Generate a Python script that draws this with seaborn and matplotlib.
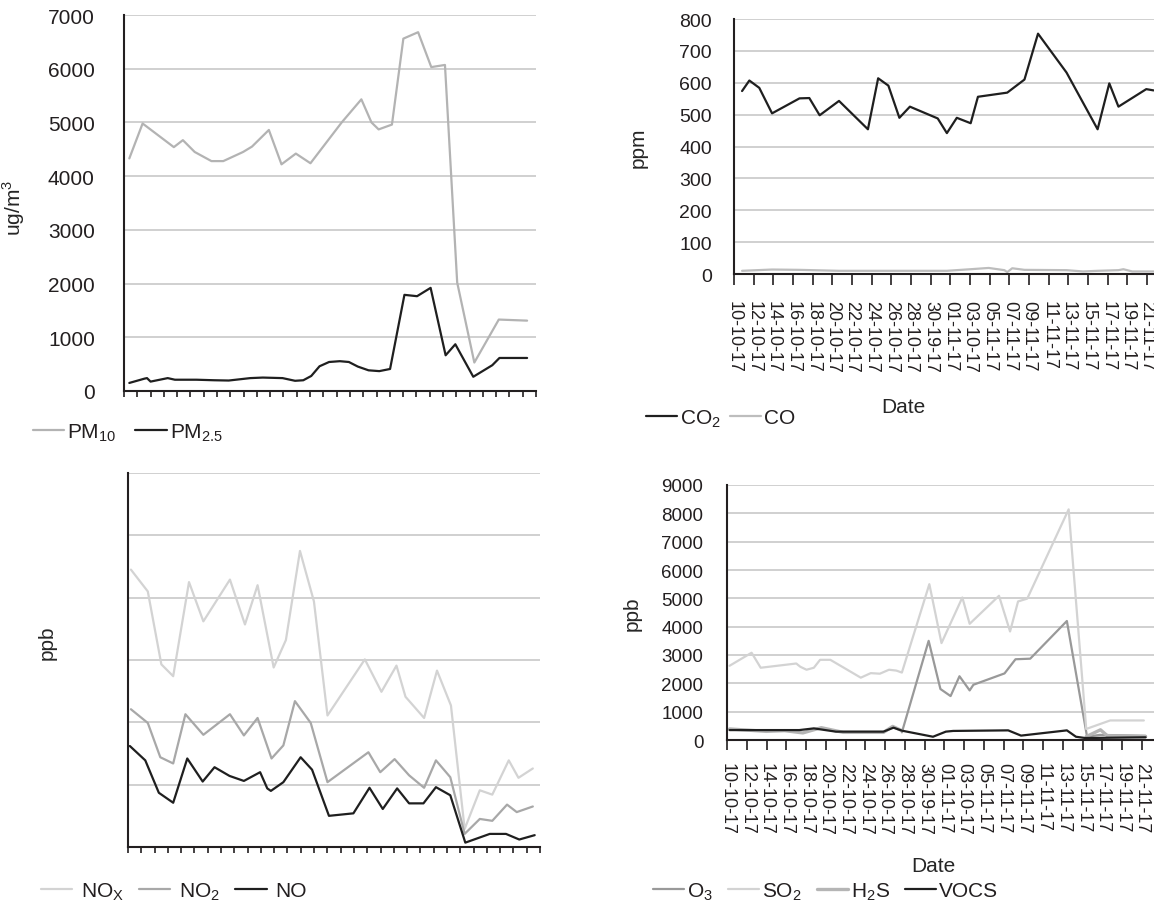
import seaborn as sns
import matplotlib.pyplot as plt

# ---- top left: particulate matter (ug/m3), x in tick units ----
pm_x10 = [0.40, 1.40, 3.75, 4.43, 5.32, 6.58, 7.47, 8.96, 9.63, 10.90, 11.85, 12.93, 14.03,
          16.38, 17.86, 18.62, 19.16, 20.16, 21.02, 22.13, 23.12, 24.15, 25.07, 26.36, 28.20, 30.33]
pm10 = [4330, 4980, 4540, 4670, 4450, 4280, 4280, 4450, 4550, 4860, 4220, 4420, 4240,
        5000, 5430, 5000, 4870, 4960, 6560, 6680, 6030, 6070, 2020, 530, 1330, 1310]
pm_x25 = [0.40, 1.54, 1.73, 2.00, 3.29, 3.83, 5.45, 6.80, 7.88, 9.50, 10.44, 11.93, 12.87, 13.49,
          14.09, 14.71, 15.43, 16.24, 16.92, 17.59, 18.40, 19.21, 20.02, 21.10, 22.05, 23.07,
          24.20, 24.93, 26.28, 27.71, 28.25, 30.33]
pm25 = [150, 230, 240, 175, 240, 210, 210, 200, 195, 240, 250, 240, 190, 200,
        280, 460, 540, 555, 540, 455, 385, 370, 410, 1790, 1765, 1920,
        665, 870, 265, 480, 615, 615]

# ---- top right: CO2 / CO (ppm), x in days from 10-10-17 ----
dates = ['10-10-17', '12-10-17', '14-10-17', '16-10-17', '18-10-17', '20-10-17', '22-10-17',
         '24-10-17', '26-10-17', '28-10-17', '30-19-17', '01-11-17', '03-10-17', '05-11-17',
         '07-11-17', '09-11-17', '11-11-17', '13-11-17', '15-11-17', '17-11-17', '19-11-17',
         '21-11-17']
co2_x = [0.82, 1.56, 2.57, 3.87, 6.66, 7.66, 8.71, 10.68, 13.62, 14.66, 15.70, 16.82, 17.89,
         20.72, 21.65, 22.66, 24.07, 24.81, 27.79, 29.54, 30.92, 33.82, 36.98, 38.17, 39.10,
         41.93, 42.67]
co2 = [574, 607, 584, 504, 551, 552, 498, 543, 454, 614, 591, 490, 525,
       488, 442, 490, 473, 556, 569, 610, 754, 632, 454, 598, 525, 580, 576]
co_x = [0.82, 3.87, 6.66, 10.68, 13.62, 17.89, 21.65, 24.07, 25.9, 27.5, 27.79, 28.3, 29.54,
        33.82, 35.5, 36.98, 39.1, 39.6, 40.5, 42.67]
co = [10, 14, 13, 10, 10, 10, 10, 15, 19, 12, 6, 18, 13, 12, 8, 10, 12, 15, 8, 8]

# ---- bottom left: nitrogen oxides (ppb, no scale shown) ----
nox_x = [0.22, 1.49, 2.51, 3.40, 4.59, 5.67, 7.67, 8.80, 9.75, 10.96, 11.88, 12.94, 13.99,
         15.01, 17.82, 19.07, 20.20, 20.88, 22.28, 23.25, 24.30, 25.33, 26.47, 27.41, 28.65,
         29.38, 30.46]
nox = [44.5, 41.0, 29.3, 27.4, 42.5, 36.2, 42.9, 35.7, 42.0, 28.8, 33.2, 47.5, 39.4,
       21.1, 30.1, 24.9, 29.1, 24.1, 20.7, 28.3, 22.7, 2.9, 9.1, 8.4, 13.9, 11.1, 12.6]
no2_x = [0.22, 1.49, 2.43, 3.40, 4.32, 5.67, 7.67, 8.72, 9.75, 10.80, 11.69, 12.56, 13.75,
         15.01, 18.09, 18.98, 20.06, 21.15, 22.28, 23.17, 24.25, 25.33, 26.47, 27.41, 28.52,
         29.25, 30.46]
no2 = [22.1, 19.9, 14.4, 13.4, 21.3, 18.0, 21.3, 17.9, 20.7, 14.2, 16.3, 23.4, 19.9,
       10.4, 15.2, 12.0, 14.1, 11.5, 9.5, 13.9, 11.2, 2.1, 4.5, 4.2, 6.8, 5.6, 6.5]
no_x = [0.14, 1.30, 2.32, 3.40, 4.46, 5.62, 6.51, 7.64, 8.72, 9.94, 10.48, 10.75, 11.69,
        12.99, 13.85, 15.12, 16.96, 18.17, 19.17, 20.25, 21.15, 22.23, 23.17, 24.25, 25.38,
        27.22, 28.44, 29.44, 30.60]
no = [16.2, 13.9, 8.7, 7.1, 14.2, 10.5, 12.8, 11.4, 10.6, 12.0, 9.4, 9.0, 10.4,
      14.4, 12.4, 5.0, 5.4, 9.5, 6.1, 9.4, 7.0, 7.0, 9.6, 8.3, 0.7,
      2.1, 2.1, 1.2, 1.9]

# ---- bottom right: O3 / SO2 / H2S / VOCS (ppb), x in days ----
o3_x = [17.70, 20.41, 21.60, 22.63, 23.53, 24.56, 24.94, 28.09, 29.20, 30.69, 34.40, 36.44,
        37.74, 42.37]
o3 = [270, 3500, 1800, 1550, 2250, 1750, 1950, 2350, 2850, 2870, 4200, 120, 180, 150]
so2_x = [0.26, 2.49, 3.41, 7.01, 7.42, 8.05, 8.79, 9.42, 10.46, 13.54, 14.55, 15.47, 16.40,
         17.14, 17.70, 20.48, 21.71, 23.82, 24.56, 27.53, 28.65, 29.46, 30.39, 34.58, 36.36,
         38.78, 42.19]
so2 = [2620, 3080, 2550, 2700, 2585, 2480, 2550, 2830, 2830, 2200, 2360, 2340, 2480,
       2450, 2380, 5500, 3420, 5030, 4100, 5090, 3830, 4890, 4990, 8140, 390,
       690, 690]
h2s_x1 = [0.26, 3.97, 5.83, 7.68, 9.54, 11.76, 15.84, 16.77, 17.70]
h2s1 = [390, 305, 330, 250, 435, 270, 270, 480, 330]
h2s_x2 = [36.36, 37.80, 38.50, 42.37]
h2s2 = [120, 360, 150, 120]
voc_x = [0.26, 7.31, 8.79, 11.02, 15.84, 16.85, 17.70, 20.85, 22.15, 22.89, 28.46, 29.76,
         34.40, 35.32, 36.25, 42.37]
voc = [350, 350, 410, 295, 295, 435, 330, 115, 295, 320, 340, 155, 340, 115, 70, 95]

W, H = 1154, 903
GRID = '#d0d0d0'
INK = '#231f20'

sns.set_style('white')
plt.rcParams['font.family'] = ['Liberation Sans', 'DejaVu Sans']
plt.rcParams['mathtext.fontset'] = 'custom'
plt.rcParams['mathtext.rm'] = 'Liberation Sans'
plt.rcParams['text.color'] = INK
plt.rcParams['xtick.color'] = INK
plt.rcParams['ytick.labelcolor'] = INK

fig = plt.figure(figsize=(W / 100, H / 100), dpi=100)


def place(l, t, r, b):
    # axes box given in pixels of the output image
    return fig.add_axes([l / W, 1 - b / H, (r - l) / W, (b - t) / H])


def style(ax, ylen, ypad, yfs):
    ax.grid(axis='y', color=GRID, linewidth=1.4)
    ax.grid(axis='x', visible=False)
    ax.set_axisbelow(True)
    for s in ['top', 'right']:
        ax.spines[s].set_visible(False)
    for s in ['left', 'bottom']:
        ax.spines[s].set_color(INK)
        ax.spines[s].set_linewidth(1.5)
    ax.tick_params(axis='y', length=ylen, width=1.4, color=GRID, pad=ypad, labelsize=yfs)
    ax.tick_params(axis='x', bottom=True, direction='out', length=4, width=1.2, color=INK)


def legend(ax, x, y, spacing, textpad=0.15):
    handles, labels = ax.get_legend_handles_labels()
    ax.legend(handles, labels, loc='center left', bbox_to_anchor=(x / W, 1 - y / H),
              bbox_transform=fig.transFigure, ncol=len(handles), frameon=False,
              fontsize=15, handlelength=1.5, handletextpad=textpad, columnspacing=spacing,
              borderpad=0, borderaxespad=0)


def line(ax, x, y, color, lw=1.6, label=None):
    sns.lineplot(x=x, y=y, ax=ax, color=color, linewidth=lw, label=label,
                 estimator=None, sort=False)


# top left
ax1 = place(124, 16, 536, 392)
line(ax1, pm_x10, pm10, '#b3b3b3', label=r'PM$_{\mathregular{10}}$')
line(ax1, pm_x25, pm25, '#1f1f1f', label=r'PM$_{\mathregular{2.5}}$')
style(ax1, 8, 13, 15)
ax1.set_xlim(0, 31)
ax1.set_ylim(0, 7000)
ax1.set_xticks(range(0, 32))
ax1.set_xticklabels([])
ax1.set_yticks(range(0, 7001, 1000))
ax1.set_ylabel(r'ug/m$^{\mathregular{3}}$', fontsize=15)
ax1.yaxis.set_label_coords(-0.235, 0.49)
legend(ax1, 33, 433, 0.9)

# top right
ax2 = place(734, 20, 1180, 275)
line(ax2, co2_x, co2, '#1f1f1f', label=r'CO$_{\mathregular{2}}$')
line(ax2, co_x, co, '#bdbdbd', label='CO')
style(ax2, 4, 12, 14)
ax2.set_xlim(0, 45.36)
ax2.set_ylim(0, 800)
ax2.set_xticks(range(0, 43, 2))
ax2.set_xticklabels(dates, rotation=-90, fontsize=13)
ax2.tick_params(axis='x', length=8, pad=11)
ax2.set_yticks(range(0, 801, 100))
ax2.set_ylabel('ppm', fontsize=15)
ax2.yaxis.set_label_coords(-0.193, 0.5)
ax2.set_xlabel('Date', fontsize=15)
ax2.xaxis.set_label_coords(0.379, -0.482)
legend(ax2, 646, 419, 0.4)

# bottom left
ax3 = place(128, 474, 540, 848)
line(ax3, nox_x, nox, '#d3d3d3', label=r'NO$_{\mathregular{X}}$')
line(ax3, no2_x, no2, '#a8a8a8', label=r'NO$_{\mathregular{2}}$')
line(ax3, no_x, no, '#1f1f1f', label='NO')
style(ax3, 8, 13, 15)
ax3.set_xlim(0, 31)
ax3.set_ylim(0, 60)
ax3.set_xticks(range(0, 32))
ax3.set_xticklabels([])
ax3.set_yticks(range(0, 61, 10))
ax3.set_yticklabels([])
ax3.set_ylabel('ppb', fontsize=15)
ax3.yaxis.set_label_coords(-0.172, 0.55)
legend(ax3, 41, 892, 0.75, textpad=0.4)

# bottom right
ax4 = place(727, 486, 1180, 741)
line(ax4, o3_x, o3, '#999999', label=r'O$_{\mathregular{3}}$')
line(ax4, so2_x, so2, '#d3d3d3', label=r'SO$_{\mathregular{2}}$')
line(ax4, h2s_x1, h2s1, '#b5b5b5', lw=2.4, label=r'H$_{\mathregular{2}}$S')
line(ax4, h2s_x2, h2s2, '#b5b5b5', lw=2.4)
line(ax4, voc_x, voc, '#1f1f1f', label='VOCS')
style(ax4, 4, 13, 13.5)
ax4.set_xlim(0, 45.85)
ax4.set_ylim(0, 9000)
ax4.set_xticks(range(0, 43, 2))
ax4.set_xticklabels(dates, rotation=-90, fontsize=13)
ax4.tick_params(axis='x', length=7, pad=9)
ax4.set_yticks(range(0, 9001, 1000))
ax4.set_ylabel('ppb', fontsize=15)
ax4.yaxis.set_label_coords(-0.188, 0.5)
ax4.set_xlabel('Date', fontsize=15)
ax4.xaxis.set_label_coords(0.455, -0.455)
legend(ax4, 653, 892, 0.7)

plt.savefig('out.png', dpi=100)
